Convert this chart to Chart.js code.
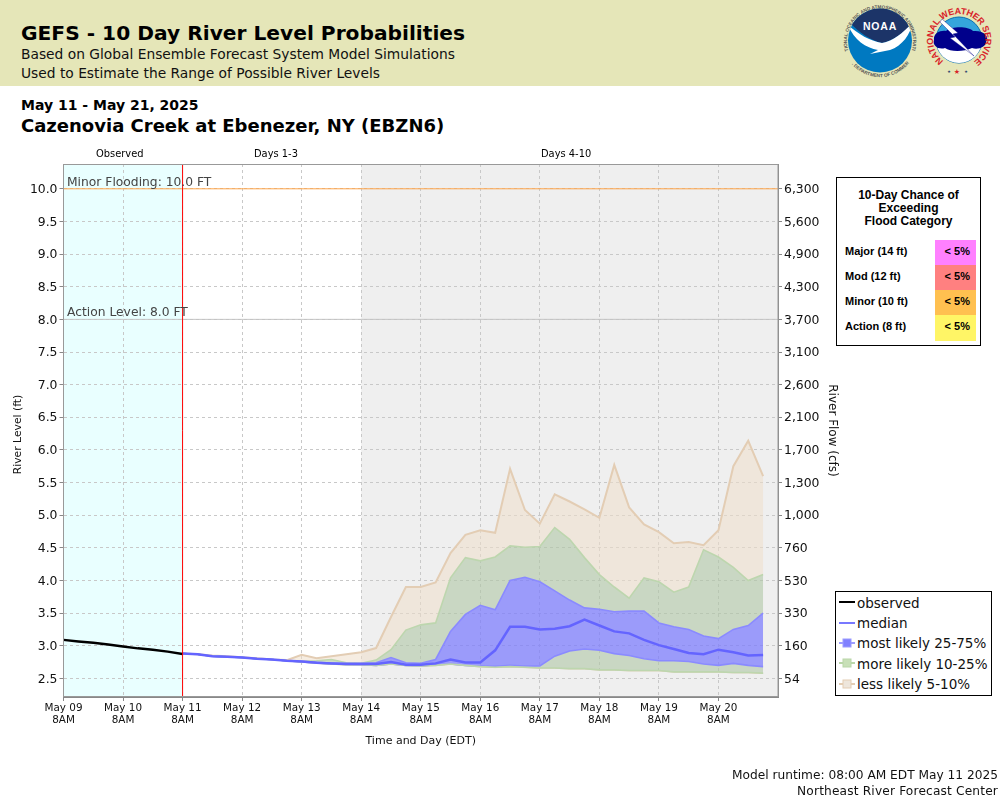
<!DOCTYPE html>
<html><head><meta charset="utf-8">
<script src="https://cdn.jsdelivr.net/npm/chart.js@4/dist/chart.umd.min.js"></script>
<style>
html,body{margin:0;padding:0;background:#fff;width:1000px;height:800px;overflow:hidden;font-family:"DejaVu Sans",sans-serif;color:#000}
#hdr{position:absolute;left:0;top:0;width:1000px;height:86px;background:#E5E6B8}
.t{position:absolute;white-space:nowrap}
canvas{position:absolute;left:0;top:0}
#flood{position:absolute;left:836px;top:177px;width:143px;height:167px;border:1px solid #000;background:#fff;font-family:"Liberation Sans",sans-serif;font-weight:bold;font-size:11px;color:#000}
#flood .h{position:absolute;left:0;top:11px;width:100%;text-align:center;font-size:12px;line-height:13px}
#flood .l{position:absolute;left:8px}
#flood .c{position:absolute;left:98px;width:41px;text-align:right;box-sizing:border-box;padding-right:6px}
#lg{position:absolute;left:835px;top:591px;width:155px;height:103px;border:1px solid #000;background:#fff;font-size:13.5px;color:#111}
#lg div{position:absolute;left:21px;white-space:nowrap}
#lg svg{position:absolute;left:3px;top:0}
</style></head><body>
<div id="hdr"></div>
<div class="t" style="left:21px;top:19px;font-size:20.2px;font-weight:bold;line-height:28px">GEFS - 10 Day River Level Probabilities</div>
<div class="t" style="left:21px;top:45px;font-size:13.8px;line-height:18px;color:#111">Based on Global Ensemble Forecast System Model Simulations</div>
<div class="t" style="left:21px;top:64px;font-size:13.8px;line-height:18px;color:#111">Used to Estimate the Range of Possible River Levels</div>
<div class="t" style="left:21px;top:96px;font-size:14px;font-weight:bold;line-height:18px">May 11 - May 21, 2025</div>
<div class="t" style="left:21px;top:114px;font-size:18px;font-weight:bold;line-height:23px">Cazenovia Creek at Ebenezer, NY (EBZN6)</div>
<svg style="position:absolute;left:840px;top:0" width="160" height="86" viewBox="840 0 160 86">
 <defs>
  <path id="ra" d="M 848.5 51.3 A 33 33 0 1 1 911.5 51.3"/>
  <path id="rb" d="M 851.7 64 A 37 37 0 0 0 908.3 64"/>
  <path id="rc" d="M 944.5 61.6 A 26 26 0 1 1 973.5 61.6"/>
  <clipPath id="cc"><circle cx="880" cy="40.5" r="32"/></clipPath>
  <clipPath id="cd"><circle cx="959" cy="40" r="23"/></clipPath>
 </defs>
 <circle cx="880" cy="40.5" r="32" fill="#0079C1"/>
 <path clip-path="url(#cc)" d="M846 6H914V23C903 33 893 41 882 43C870 40 860 33 850 23Z" fill="#1C3468"/>
 <path clip-path="url(#cc)" d="M848 25C858 34 870 41 882 43C893 41 903 33 912 23C911 34 902 46 890 50L870 54L878 50C866 48 854 40 848 25Z" fill="#fff"/>
 <text x="880" y="30" text-anchor="middle" font-family="Liberation Sans" font-weight="bold" font-size="10.5" fill="#fff" letter-spacing=".8">NOAA</text>
 <text font-family="Liberation Sans" font-size="4.7" font-weight="bold" fill="#555"><textPath href="#ra" startOffset="50%" text-anchor="middle">NATIONAL OCEANIC AND ATMOSPHERIC ADMINISTRATION</textPath></text>
 <text font-family="Liberation Sans" font-size="4.7" font-weight="bold" fill="#555"><textPath href="#rb" startOffset="50%" text-anchor="middle">U.S. DEPARTMENT OF COMMERCE</textPath></text>
 <circle cx="959" cy="40" r="23" fill="#35A5DC" stroke="#0B6FB0" stroke-width="1"/>
 <g clip-path="url(#cd)"><rect x="934" y="48" width="50" height="18" fill="#fff"/></g>
 <path d="M934 40C933 33 941 30 946 31C952 26 968 26 973 31C984 30 990 37 986 42C986 47 978 50 972 48C964 52 950 52 945 48C939 50 932 46 934 40Z" fill="#00008B"/>
 <path d="M942 19L958 33L953 34L974 56L950 38L955 37L940 22Z" fill="#fff" stroke="#00008B" stroke-width=".4"/>
 <text font-family="Liberation Sans" font-size="9" font-weight="bold" fill="#D8232A"><textPath href="#rc" startOffset="1" textLength="131" lengthAdjust="spacing">NATIONAL WEATHER SERVICE</textPath></text>
 <text x="957" y="74" text-anchor="middle" font-size="7" fill="#D8232A" font-family="DejaVu Sans">★</text>
 <text x="949" y="73" text-anchor="middle" font-size="4" fill="#1C3468" font-family="DejaVu Sans">★</text>
 <text x="966" y="73" text-anchor="middle" font-size="4" fill="#1C3468" font-family="DejaVu Sans">★</text>
</svg>
<canvas id="c" width="1000" height="800" style="width:1000px;height:800px"></canvas>
<div class="t" style="left:96px;top:148px;font-size:9.9px;line-height:12px">Observed</div>
<div class="t" style="left:254px;top:148px;font-size:9.9px;line-height:12px">Days 1-3</div>
<div class="t" style="left:541px;top:148px;font-size:9.9px;line-height:12px">Days 4-10</div>
<div id="flood">
 <div class="h">10-Day Chance of<br>Exceeding<br>Flood Category</div>
 <div class="l" style="top:67px">Major (14 ft)</div>
 <div class="l" style="top:92px">Mod (12 ft)</div>
 <div class="l" style="top:117px">Minor (10 ft)</div>
 <div class="l" style="top:142px">Action (8 ft)</div>
 <div class="c" style="top:62px;height:25px;line-height:23px;background:#FF80FF">&lt; 5%</div>
 <div class="c" style="top:87px;height:25px;line-height:23px;background:#FF8080">&lt; 5%</div>
 <div class="c" style="top:112px;height:25px;line-height:23px;background:#FFC050">&lt; 5%</div>
 <div class="c" style="top:137px;height:26px;line-height:23px;background:#FFF566">&lt; 5%</div>
</div>
<div id="lg">
 <svg width="18" height="103">
  <line x1="0" x2="16" y1="10" y2="10" stroke="#000" stroke-width="2"/>
  <line x1="0" x2="16" y1="31" y2="31" stroke="#7878FF" stroke-width="2"/>
  <line x1="0" x2="16" y1="51" y2="51" stroke="#9C9CFF" stroke-width="2"/><rect x="4" y="47" width="8" height="8" fill="#8080FF" stroke="#9C9CFF"/>
  <line x1="0" x2="16" y1="71" y2="71" stroke="#B9D6A8" stroke-width="2"/><rect x="4" y="67" width="8" height="8" fill="#C8E0B8" stroke="#B9D6A8"/>
  <line x1="0" x2="16" y1="92" y2="92" stroke="#E3CDB4" stroke-width="2"/><rect x="4" y="88" width="8" height="8" fill="#EEE6DC" stroke="#E3CDB4"/>
 </svg>
 <div style="top:3px">observed</div>
 <div style="top:23px">median</div>
 <div style="top:43px">most likely 25-75%</div>
 <div style="top:64px">more likely 10-25%</div>
 <div style="top:84px">less likely 5-10%</div>
</div>
<div class="t" style="right:2px;top:768px;font-size:12.2px;line-height:15px;color:#111">Model runtime: 08:00 AM EDT May 11 2025</div>
<div class="t" style="right:2px;top:784px;font-size:12.2px;line-height:15px;color:#111;letter-spacing:.16px">Northeast River Forecast Center</div>
<script>
const xTickLabels = [["May 09","8AM"],["May 10","8AM"],["May 11","8AM"],["May 12","8AM"],["May 13","8AM"],["May 14","8AM"],["May 15","8AM"],["May 16","8AM"],["May 17","8AM"],["May 18","8AM"],["May 19","8AM"],["May 20","8AM"]];
const levelTicks = [2.5,3,3.5,4,4.5,5,5.5,6,6.5,7,7.5,8,8.5,9,9.5,10];
const flowTicks = ["54","160","330","530","760","1,000","1,300","1,700","2,100","2,600","3,100","3,700","4,300","4,900","5,600","6,300"];
const obsHours = [0,6,12,18,24,30,36,42,48];
const observed = [3.09,3.065,3.045,3.02,2.99,2.96,2.94,2.91,2.875];
const fcstHours = [48,54,60,66,72,78,84,90,96,102,108,114,120,126,132,138,144,150,156,162,168,174,180,186,192,198,204,210,216,222,228,234,240,246,252,258,264,270,276,282];
const median = [2.88,2.87,2.84,2.83,2.82,2.80,2.79,2.77,2.76,2.74,2.73,2.72,2.72,2.72,2.75,2.71,2.71,2.73,2.79,2.745,2.745,2.93,3.29,3.29,3.25,3.26,3.30,3.40,3.31,3.22,3.19,3.09,3.01,2.95,2.89,2.87,2.94,2.90,2.85,2.86];
const p75 = [2.88,2.87,2.84,2.83,2.82,2.80,2.79,2.77,2.76,2.745,2.735,2.73,2.73,2.74,2.82,2.74,2.73,2.79,3.22,3.48,3.62,3.55,4.00,4.05,3.98,3.84,3.70,3.58,3.56,3.52,3.53,3.53,3.35,3.29,3.25,3.15,3.11,3.25,3.31,3.50];
const p25 = [2.88,2.87,2.84,2.83,2.82,2.80,2.79,2.77,2.75,2.735,2.725,2.715,2.71,2.70,2.72,2.70,2.69,2.71,2.72,2.70,2.69,2.685,2.70,2.69,2.69,2.84,2.92,2.95,2.93,2.88,2.85,2.80,2.77,2.77,2.76,2.72,2.70,2.73,2.70,2.68];
const p90 = [2.88,2.87,2.84,2.83,2.82,2.80,2.79,2.77,2.76,2.77,2.79,2.74,2.73,2.78,2.94,3.24,3.32,3.35,4.04,4.35,4.30,4.36,4.53,4.51,4.52,4.81,4.63,4.35,4.09,3.90,3.73,4.04,3.98,3.82,3.90,4.47,4.36,4.20,4.00,4.09];
const p10 = [2.88,2.87,2.84,2.83,2.82,2.80,2.79,2.77,2.75,2.735,2.72,2.71,2.71,2.70,2.72,2.70,2.69,2.70,2.72,2.70,2.68,2.67,2.68,2.67,2.66,2.66,2.65,2.65,2.63,2.63,2.62,2.62,2.62,2.60,2.60,2.60,2.60,2.59,2.59,2.58];
const p95 = [2.88,2.87,2.85,2.84,2.825,2.81,2.79,2.78,2.86,2.81,2.84,2.87,2.90,2.965,3.44,3.90,3.90,3.97,4.42,4.70,4.77,4.73,5.71,5.08,4.87,5.32,5.21,5.09,4.96,5.77,5.12,4.86,4.74,4.57,4.59,4.54,4.77,5.75,6.14,5.60];
const p05 = [2.88,2.87,2.84,2.83,2.82,2.80,2.79,2.77,2.75,2.73,2.715,2.705,2.705,2.695,2.715,2.695,2.685,2.695,2.715,2.695,2.675,2.665,2.675,2.665,2.655,2.655,2.645,2.645,2.625,2.625,2.615,2.615,2.615,2.595,2.595,2.595,2.595,2.585,2.585,2.575];
const xMin = 0, xMax = 288, yMin = 2.215, yMax = 10.38;
const nowHour = 48, extendedStart = 120;
const minorLevel = 10, actionLevel = 8;

const pts = (hs, vs) => hs.map((h,i) => ({x:h,y:vs[i]}));
const TAN='rgba(238,222,202,.55)', GRN='rgba(175,198,165,.6)', BLU='rgba(120,120,255,.7)';
const band = (label, vals, line, w, target, fillc, ord) => ({label, data:pts(fcstHours,vals), borderColor:line, borderWidth:w, pointRadius:0, tension:0, fill: target===null?false:{target}, backgroundColor:fillc, order:ord});
const datasets = [
  band('p95',p95,'#E3CDB4',2,1,TAN,20),
  band('p90',p90,'#BDD6AE',1.6,2,GRN,19),
  band('p75',p75,'#8A8AFF',1.6,3,BLU,18),
  band('p25',p25,'#8A8AFF',1.6,4,GRN,17),
  band('p10',p10,'#BDD6AE',1.6,5,TAN,16),
  band('p05',p05,'#E3CDB4',1,null,TAN,21),
  band('median',median,'#6464FF',2.5,null,TAN,5),
  {label:'observed',data:pts(obsHours,observed),borderColor:'#000',borderWidth:2.5,pointRadius:0,tension:0,fill:false,order:4},
  {label:'minor',data:[{x:xMin,y:minorLevel},{x:xMax,y:minorLevel}],borderColor:'#FFA54A',borderWidth:1,pointRadius:0,fill:false,order:3},
  {label:'action',data:[{x:xMin,y:actionLevel},{x:xMax,y:actionLevel}],borderColor:'#C4C4C4',borderWidth:1,pointRadius:0,fill:false,order:3},
  {label:'now',data:[{x:nowHour,y:yMin},{x:nowHour,y:yMax}],borderColor:'#FF0000',borderWidth:1,pointRadius:0,fill:false,order:2}
];
const regions = {
  id:'regions',
  beforeDraw(ch){
    const {ctx,chartArea:a,scales:{x}} = ch; ctx.save();
    ctx.fillStyle='#E9FFFF'; ctx.fillRect(x.getPixelForValue(xMin),a.top,x.getPixelForValue(nowHour)-x.getPixelForValue(xMin),a.height);
    ctx.fillStyle='#EFEFEF'; ctx.fillRect(x.getPixelForValue(extendedStart),a.top,x.getPixelForValue(xMax)-x.getPixelForValue(extendedStart),a.height);
    ctx.restore();
  },
  afterDraw(ch){
    const {ctx,chartArea:a,scales:{y}} = ch; ctx.save();
    ctx.strokeStyle='#999'; ctx.lineWidth=1; ctx.strokeRect(a.left,a.top+.5,a.width,a.height-1);
    ctx.fillStyle='#444'; ctx.font='12.3px "DejaVu Sans"'; ctx.textBaseline='alphabetic';
    ctx.fillText('Minor Flooding: 10.0 FT',a.left+3.5,y.getPixelForValue(minorLevel)-3);
    ctx.fillText('Action Level: 8.0 FT',a.left+3.5,y.getPixelForValue(actionLevel)-3);
    ctx.save(); ctx.translate(18,434.5); ctx.rotate(-Math.PI/2);
    ctx.fillStyle='#111'; ctx.font='10.8px "DejaVu Sans"'; ctx.textAlign='center'; ctx.textBaseline='middle';
    ctx.fillText('River Level (ft)',0,0); ctx.restore();
    ctx.restore();
  }
};
const setTicks = vals => s => { s.ticks = vals.map(v=>({value:v})); };
new Chart(document.getElementById('c'),{
  type:'line',
  data:{datasets},
  plugins:[regions],
  options:{
    responsive:false, animation:false, devicePixelRatio:1,
    layout:{padding:{left:12.5,top:164,right:161,bottom:52}},
    plugins:{legend:{display:false},tooltip:{enabled:false},title:{display:false}},
    scales:{
      x:{type:'linear',min:xMin,max:xMax,
        afterBuildTicks:setTicks(xTickLabels.map((_,i)=>i*24)),
        grid:{color:'#C8C8C8',borderDash:[3,3],tickLength:4,tickColor:'#888',tickBorderDash:[]},
        border:{color:'#888',dash:[3,3]},
        ticks:{autoSkip:false,maxRotation:0,padding:1,color:'#111',font:{family:'DejaVu Sans',size:10.4,lineHeight:1.2},callback:(v)=>xTickLabels[v/24]},
        title:{display:true,text:'Time and Day (EDT)',color:'#111',font:{family:'DejaVu Sans',size:11},padding:{top:4,bottom:0}},
        afterFit(s){s.height=51;}
      },
      y:{type:'linear',position:'left',min:yMin,max:yMax,
        afterBuildTicks:setTicks(levelTicks),
        grid:{color:'#C8C8C8',borderDash:[3,3],tickLength:4,tickColor:'#888',tickBorderDash:[]},
        border:{color:'#888',dash:[3,3]},
        ticks:{autoSkip:false,padding:2,labelOffset:1,color:'#111',font:{family:'DejaVu Sans',size:12.4},callback:v=>v.toFixed(1)},
        afterFit(s){s.width=51;}
      },
      y2:{type:'linear',position:'right',min:yMin,max:yMax,
        afterBuildTicks:setTicks(levelTicks),
        grid:{drawOnChartArea:false,tickLength:4,tickColor:'#888'},
        border:{color:'#888'},
        ticks:{autoSkip:false,padding:2,labelOffset:1,color:'#111',font:{family:'DejaVu Sans',size:12.4},callback:v=>flowTicks[levelTicks.indexOf(v)]},
        title:{display:true,text:'River Flow (cfs)',color:'#111',font:{family:'DejaVu Sans',size:12},padding:{top:0,bottom:0}},
        afterFit(s){s.width=61;}
      }
    }
  }
});
</script>
</body></html>
